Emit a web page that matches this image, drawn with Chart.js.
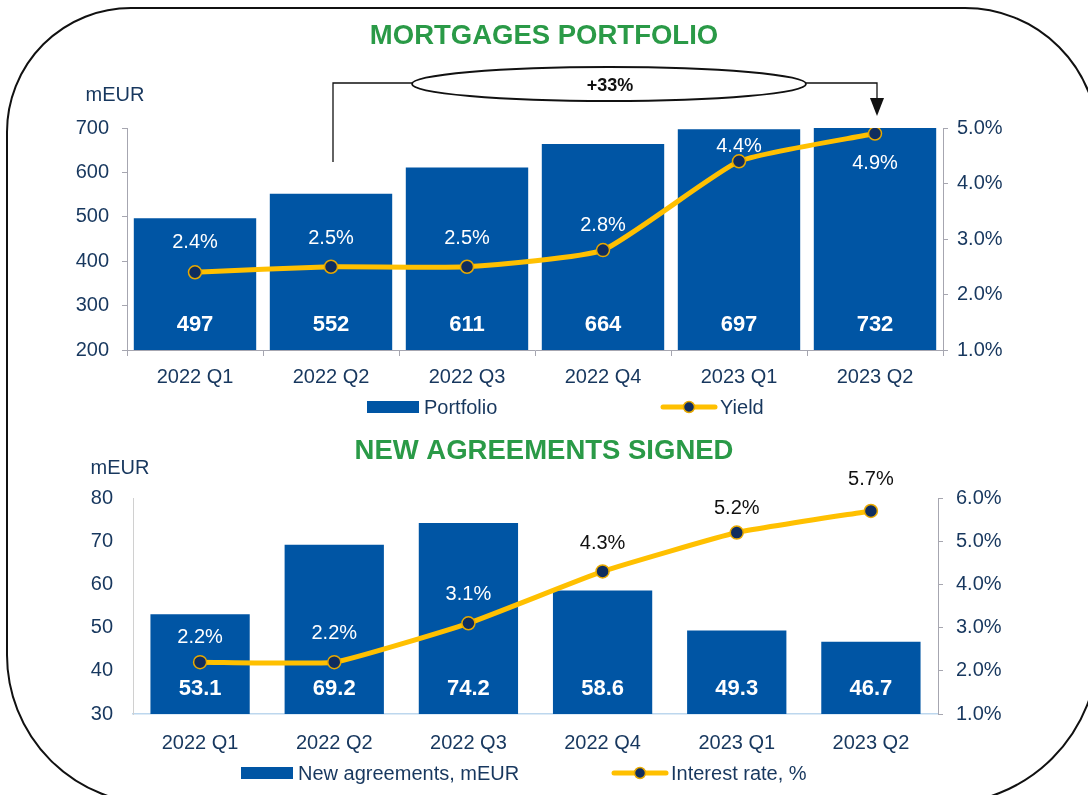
<!DOCTYPE html>
<html>
<head>
<meta charset="utf-8">
<script src="https://cdn.jsdelivr.net/npm/chart.js@4.4.0/dist/chart.umd.min.js"></script>
<style>
  body { margin: 0; background: #fff; width: 1088px; height: 795px; overflow: hidden; position: relative; }
  #frame { position: absolute; left: 6px; top: 7px; width: 1093px; height: 798px; box-sizing: border-box;
           border: 2px solid #111; border-radius: 125px 134px 157px 150px; }
  #topChart { position: absolute; left: 0; top: 0; }
  #bottomChart { position: absolute; left: 0; top: 430px; }
</style>
</head>
<body>
<div id="frame"></div>
<canvas id="topChart" width="1088" height="430"></canvas>
<canvas id="bottomChart" width="1088" height="365"></canvas>
<script>
// data
var quarters = ['2022 Q1', '2022 Q2', '2022 Q3', '2022 Q4', '2023 Q1', '2023 Q2'];
var portfolio = [497, 552, 611, 664, 697, 732];
var yieldPct = [2.4, 2.5, 2.5, 2.8, 4.4, 4.9];
var newAgreements = [53.1, 69.2, 74.2, 58.6, 49.3, 46.7];
var interestRate = [2.2, 2.2, 3.1, 4.3, 5.2, 5.7];
var portfolioGrowth = '+33%';

var FONT = '"Liberation Sans", Arial, sans-serif';
var NAVY = '#17375E';
var BLUE = '#0055A4';
var YELLOW = '#FFC000';
var DOT = '#0F2D5F';
var GREEN = '#2A9A47';
var AXIS = '#A6A6B0';

Chart.defaults.font.family = FONT;
Chart.defaults.color = NAVY;

function pct(v) { return v.toFixed(1) + '%'; }

// labels, unit caption, legend and bracket drawn on top of the library's marks
var extrasPlugin = {
    id: 'extras',
    afterDatasetsDraw: function (chart, args, opts) {
        var ctx = chart.ctx;
        var area = chart.chartArea;
        var bars = chart.getDatasetMeta(0).data;
        var pts = chart.getDatasetMeta(1).data;
        var barVals = chart.data.datasets[0].data;
        var lineVals = chart.data.datasets[1].data;

        ctx.save();
        ctx.textAlign = 'center';
        ctx.textBaseline = 'middle';

        // bar values
        ctx.font = 'bold 22px ' + FONT;
        ctx.fillStyle = '#fff';
        bars.forEach(function (bar, i) {
            ctx.fillText(String(barVals[i]), bar.x, area.bottom - 25);
        });

        // line values
        ctx.font = '20px ' + FONT;
        pts.forEach(function (p, i) {
            var y = p.y + opts.lineOffsets[i];
            var barTop = Math.max(bars[i].y, area.top);
            ctx.fillStyle = (y - 9 > barTop) ? '#fff' : '#111';
            ctx.fillText(pct(lineVals[i]), p.x, y);
        });

        // unit caption
        ctx.fillStyle = NAVY;
        ctx.fillText('mEUR', area.left - opts.unitDx, area.top - opts.unitDy);

        // legend
        ctx.textAlign = 'left';
        var ly = opts.legendY;
        var it = opts.legend;
        ctx.fillStyle = BLUE;
        ctx.fillRect(it[0].x, ly - 6, 52, 12);
        ctx.fillStyle = NAVY;
        ctx.fillText(chart.data.datasets[0].label, it[0].x + 57, ly + 1);

        ctx.strokeStyle = YELLOW;
        ctx.lineWidth = 5;
        ctx.lineCap = 'round';
        ctx.beginPath();
        ctx.moveTo(it[1].x + 2, ly);
        ctx.lineTo(it[1].x + 54, ly);
        ctx.stroke();
        ctx.beginPath();
        ctx.arc(it[1].x + 28, ly, 5.5, 0, Math.PI * 2);
        ctx.fillStyle = DOT;
        ctx.fill();
        ctx.lineWidth = 1.5;
        ctx.strokeStyle = '#E8A900';
        ctx.stroke();
        ctx.fillStyle = NAVY;
        ctx.fillText(chart.data.datasets[1].label, it[1].x + 59, ly + 1);

        // growth bracket
        if (opts.bracket) {
            var xs = chart.scales.x;
            var x1 = xs.getPixelForValue(1) + 2;
            var x2 = xs.getPixelForValue(5) + 2;
            var by = area.top - 45;
            var cx = 609, rx = 197, ry = 17;
            ctx.strokeStyle = '#111';
            ctx.lineWidth = 1.3;
            ctx.lineCap = 'butt';
            ctx.beginPath();
            ctx.moveTo(x1, area.top + 34);
            ctx.lineTo(x1, by);
            ctx.lineTo(cx - rx, by);
            ctx.moveTo(cx + rx, by);
            ctx.lineTo(x2, by);
            ctx.lineTo(x2, area.top - 24);
            ctx.stroke();
            ctx.beginPath();
            ctx.moveTo(x2 - 7, area.top - 30);
            ctx.lineTo(x2 + 7, area.top - 30);
            ctx.lineTo(x2, area.top - 12);
            ctx.closePath();
            ctx.fillStyle = '#111';
            ctx.fill();
            ctx.beginPath();
            ctx.ellipse(cx, by + 1, rx, ry, 0, 0, Math.PI * 2);
            ctx.fillStyle = '#fff';
            ctx.fill();
            ctx.lineWidth = 1.8;
            ctx.stroke();
            ctx.textAlign = 'center';
            ctx.fillStyle = '#111';
            ctx.font = 'bold 18px ' + FONT;
            ctx.fillText(portfolioGrowth, cx + 1, by + 3);
        }
        ctx.restore();
    }
};

function tickFont() { return { size: 20, family: FONT }; }

// ---------- MORTGAGES PORTFOLIO ----------
var topChart = new Chart(document.getElementById('topChart'), {
    type: 'bar',
    plugins: [extrasPlugin],
    data: {
        labels: quarters,
        datasets: [{
            label: 'Portfolio',
            data: portfolio,
            backgroundColor: BLUE,
            yAxisID: 'y',
            order: 2,
            categoryPercentage: 1,
            barPercentage: 0.9
        }, {
            type: 'line',
            label: 'Yield',
            data: yieldPct,
            yAxisID: 'y1',
            order: 1,
            borderColor: YELLOW,
            borderWidth: 5,
            tension: 0.15,
            pointRadius: 6.5,
            pointBackgroundColor: DOT,
            pointBorderColor: '#E8A900',
            pointBorderWidth: 1.5
        }]
    },
    options: {
        responsive: false,
        animation: false,
        layout: { padding: 0 },
        plugins: {
            legend: { display: false },
            tooltip: { enabled: false },
            title: {
                display: true,
                text: 'MORTGAGES PORTFOLIO',
                color: GREEN,
                font: { size: 27.5, weight: 'bold', family: FONT },
                padding: { top: 20, bottom: 75 }
            },
            extras: {
                lineOffsets: [-30, -28, -28, -25, -15, 30],
                unitDx: 12, unitDy: 33,
                legendY: 407,
                legend: [{ x: 367 }, { x: 661 }],
                bracket: true
            }
        },
        scales: {
            x: {
                grid: { drawOnChartArea: false, offset: true, tickLength: 6, color: AXIS },
                border: { color: AXIS },
                ticks: { color: NAVY, font: tickFont(), padding: 9 },
                afterFit: function (s) { s.height = 80; }
            },
            y: {
                position: 'left',
                min: 200, max: 700,
                grid: { drawOnChartArea: false, tickLength: 5, color: AXIS },
                border: { color: AXIS },
                ticks: { stepSize: 100, color: NAVY, font: tickFont(), padding: 13 },
                afterFit: function (s) { s.width = 127; }
            },
            y1: {
                position: 'right',
                min: 1, max: 5,
                grid: { drawOnChartArea: false, tickLength: 5, color: AXIS },
                border: { color: AXIS },
                ticks: { stepSize: 1, color: NAVY, font: tickFont(), padding: 9, callback: function (v) { return pct(v); } },
                afterFit: function (s) { s.width = 145; }
            }
        }
    }
});

// ---------- NEW AGREEMENTS SIGNED ----------
var bottomChart = new Chart(document.getElementById('bottomChart'), {
    type: 'bar',
    plugins: [extrasPlugin],
    data: {
        labels: quarters,
        datasets: [{
            label: 'New agreements, mEUR',
            data: newAgreements,
            backgroundColor: BLUE,
            yAxisID: 'y',
            order: 2,
            categoryPercentage: 1,
            barPercentage: 0.74
        }, {
            type: 'line',
            label: 'Interest rate, %',
            data: interestRate,
            yAxisID: 'y1',
            order: 1,
            borderColor: YELLOW,
            borderWidth: 5,
            tension: 0.12,
            pointRadius: 6.5,
            pointBackgroundColor: DOT,
            pointBorderColor: '#E8A900',
            pointBorderWidth: 1.5
        }]
    },
    options: {
        responsive: false,
        animation: false,
        layout: { padding: 0 },
        plugins: {
            legend: { display: false },
            tooltip: { enabled: false },
            title: {
                display: true,
                text: 'NEW AGREEMENTS SIGNED',
                color: GREEN,
                font: { size: 27.5, weight: 'bold', family: FONT },
                padding: { top: 5, bottom: 30 }
            },
            extras: {
                lineOffsets: [-25, -29, -29, -28, -24, -31],
                unitDx: 13, unitDy: 30,
                legendY: 343,
                legend: [{ x: 241 }, { x: 612 }],
                bracket: false
            }
        },
        scales: {
            x: {
                grid: { display: false, drawTicks: false, tickLength: 0 },
                border: { color: '#BDD7EE', width: 1.5 },
                ticks: { color: NAVY, font: tickFont(), padding: 17 },
                afterFit: function (s) { s.height = 81; }
            },
            y: {
                position: 'left',
                min: 30, max: 80,
                grid: { display: false, drawTicks: false, tickLength: 0 },
                border: { color: '#D0D0D0' },
                ticks: { stepSize: 10, color: NAVY, font: tickFont(), padding: 20 },
                afterFit: function (s) { s.width = 133; }
            },
            y1: {
                position: 'right',
                min: 1, max: 6,
                grid: { drawOnChartArea: false, tickLength: 5, color: AXIS },
                border: { color: AXIS },
                ticks: { stepSize: 1, color: NAVY, font: tickFont(), padding: 13, callback: function (v) { return pct(v); } },
                afterFit: function (s) { s.width = 150; }
            }
        }
    }
});
</script>
</body>
</html>
